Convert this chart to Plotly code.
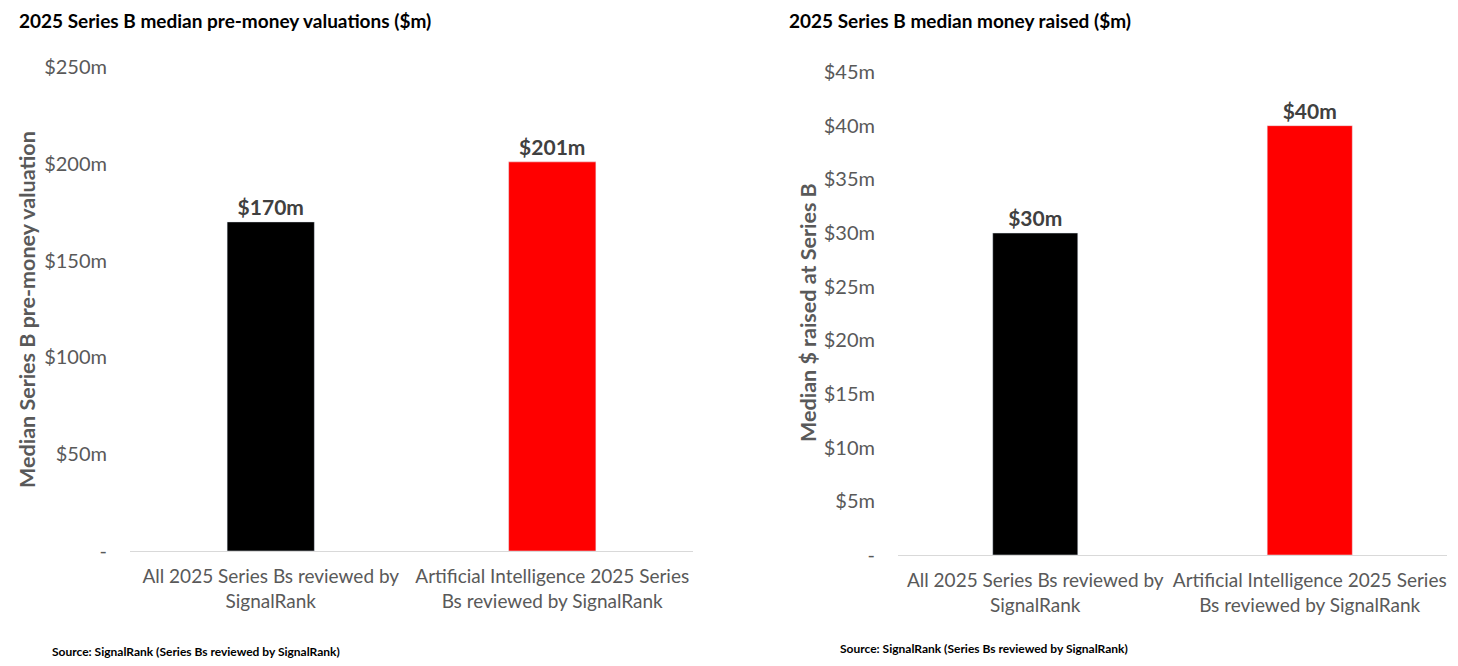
import plotly.graph_objects as go
from plotly.subplots import make_subplots

# ---------------------------------------------------------------------------
# data
# ---------------------------------------------------------------------------
categories = ["All 2025 Series Bs reviewed by<br>SignalRank",
              "Artificial Intelligence 2025 Series<br>Bs reviewed by SignalRank"]
valuation_m = [170, 201]
raised_m = [30, 40]
bar_colors = ["#000000", "#ff0000"]

val_ticks = [0, 50, 100, 150, 200, 250]
val_ticktext = ["-", "$50m", "$100m", "$150m", "$200m", "$250m"]
raised_ticks = [0, 5, 10, 15, 20, 25, 30, 35, 40, 45]
raised_ticktext = ["-"] + [f"${v}m" for v in raised_ticks[1:]]

FONT = "Lato, 'Open Sans', sans-serif"
GREY = "#595959"

# page body keeps an 8px margin, so the figure is a bit smaller than the window
W, H, OFF = 1450, 658, 8


def px(x):
    return (x - OFF) / W


def py(y):
    return 1 - (y - OFF) / H


fig = make_subplots(rows=1, cols=2)

fig.add_trace(go.Bar(x=categories, y=valuation_m, marker_color=bar_colors,
                     text=[f"${v}m" for v in valuation_m], textposition="outside",
                     textfont=dict(size=21, color="#404040", family=FONT, weight="bold"),
                     cliponaxis=False, width=0.31, showlegend=False), row=1, col=1)
fig.add_trace(go.Bar(x=categories, y=raised_m, marker_color=bar_colors,
                     text=[f"${v}m" for v in raised_m], textposition="outside",
                     textfont=dict(size=21, color="#404040", family=FONT, weight="bold"),
                     cliponaxis=False, width=0.31, showlegend=False), row=1, col=2)

xstyle = dict(showline=True, linecolor="#d9d9d9", linewidth=1, ticks="",
              tickfont=dict(size=19, color=GREY, family=FONT),
              showgrid=False, ticklabelstandoff=8, automargin=False)
ystyle = dict(showgrid=False, zeroline=False, showline=False,
              tickfont=dict(size=20, color=GREY, family=FONT),
              ticklabelstandoff=22, automargin=False)

fig.update_xaxes(domain=[px(130), px(693)], **xstyle, row=1, col=1)
fig.update_xaxes(domain=[px(898), px(1447)], **xstyle, row=1, col=2)
fig.update_yaxes(domain=[py(551), py(67)], range=[0, 250], tickvals=val_ticks,
                 ticktext=val_ticktext, **ystyle, row=1, col=1)
fig.update_yaxes(domain=[py(555), py(72)], range=[0, 45], tickvals=raised_ticks,
                 ticktext=raised_ticktext, **ystyle, row=1, col=2)

# chart titles: pinned to the top edge so they are not clipped
for txt, x in [("<b>2025 Series B median pre-money valuations ($m)</b>", 18),
               ("<b>2025 Series B median money raised ($m)</b>", 788)]:
    fig.add_annotation(xref="paper", yref="paper", xanchor="left", yanchor="top",
                       showarrow=False, x=px(x), y=1, text=txt, borderpad=0,
                       font=dict(family=FONT, size=19, color="#000000"))

for x, y in [(50, 651), (838, 648)]:
    fig.add_annotation(xref="paper", yref="paper", xanchor="left", yanchor="middle",
                       showarrow=False, x=px(x), y=py(y),
                       text="<b>Source: SignalRank (Series Bs reviewed by SignalRank)</b>",
                       font=dict(family=FONT, size=12, color="#000000"))

fig.add_annotation(xref="paper", yref="paper", x=px(27), y=py(310), textangle=-90,
                   xanchor="center", yanchor="middle",
                   text="<b>Median Series B pre-money valuation</b>", showarrow=False,
                   font=dict(size=21.5, color=GREY, family=FONT))
fig.add_annotation(xref="paper", yref="paper", x=px(808), y=py(313), textangle=-90,
                   xanchor="center", yanchor="middle",
                   text="<b>Median $ raised at Series B</b>", showarrow=False,
                   font=dict(size=21.5, color=GREY, family=FONT))

fig.update_layout(width=W, height=H, margin=dict(l=0, r=0, t=0, b=0),
                  plot_bgcolor="white", paper_bgcolor="white",
                  font=dict(family=FONT), bargap=0.69)

fig.write_html("out.html")
